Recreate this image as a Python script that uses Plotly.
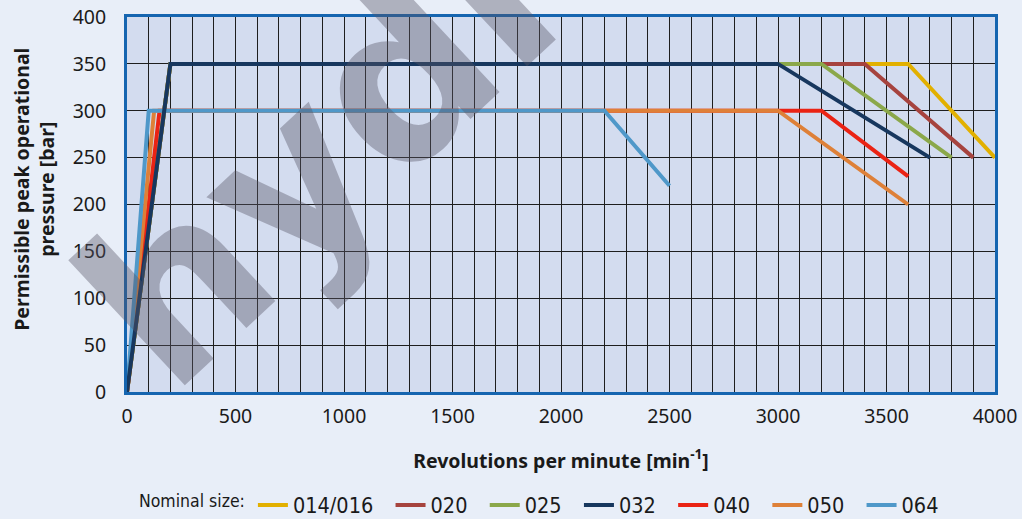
import plotly.graph_objects as go

# ---- data ----
sizes = ["014/016", "020", "025", "032", "040", "050", "064"]
colors = ["#E2B000", "#A6433E", "#8BA84A", "#17375E", "#EA2314", "#DE8038", "#4F98C9"]

rpm_014 = [0, 200, 3600, 4000]
bar_014 = [0, 350, 350, 250]
rpm_020 = [0, 200, 3400, 3900]
bar_020 = [0, 350, 350, 250]
rpm_025 = [0, 200, 3200, 3800]
bar_025 = [0, 350, 350, 250]
rpm_032 = [0, 200, 3000, 3700]
bar_032 = [0, 350, 350, 250]
rpm_040 = [0, 150, 3200, 3600]
bar_040 = [0, 300, 300, 230]
rpm_050 = [0, 125, 3000, 3600]
bar_050 = [0, 300, 300, 200]
rpm_064 = [0, 100, 2200, 2500]
bar_064 = [0, 300, 300, 220]

x_ticks = [0, 500, 1000, 1500, 2000, 2500, 3000, 3500, 4000]
y_ticks = [0, 50, 100, 150, 200, 250, 300, 350, 400]

series = {
    "014/016": (rpm_014, bar_014),
    "020": (rpm_020, bar_020),
    "025": (rpm_025, bar_025),
    "032": (rpm_032, bar_032),
    "040": (rpm_040, bar_040),
    "050": (rpm_050, bar_050),
    "064": (rpm_064, bar_064),
}

# drawing order (later = on top); legend order follows `sizes`
draw_order = ["014/016", "020", "025", "040", "050", "064", "032"]
pad = "\u00a0\u00a0"  # extra spacing between legend entries

fig = go.Figure()
for name in draw_order:
    xs, ys = series[name]
    i = sizes.index(name)
    fig.add_trace(go.Scatter(
        x=xs, y=ys, mode="lines", name=name + pad,
        line=dict(color=colors[i], width=4),
        legendrank=100 + i,
    ))

tick_font = dict(family="Noto Sans, Open Sans, sans-serif", size=19.5, color="#1a1a1a")
title_font = dict(family="Noto Sans, Open Sans, sans-serif", size=19.5, color="#1a1a1a", weight="bold")
legend_family = "Liberation Sans Narrow, DejaVu Sans Condensed, Roboto, sans-serif"

fig.update_layout(
    width=1022, height=519,
    margin=dict(l=127, r=27, t=17, b=127, autoexpand=False),
    paper_bgcolor="#E8EEF8",
    plot_bgcolor="#D3DCEF",
    showlegend=True,
    legend=dict(
        orientation="h",
        xref="container", yref="container",
        x=0.134, y=0.027, xanchor="left", yanchor="middle",
        title=dict(text="Nominal size:", side="left",
                   font=dict(family=legend_family, size=17.5, color="#1a1a1a")),
        font=dict(family=legend_family, size=21.5, color="#1a1a1a"),
        bgcolor="rgba(0,0,0,0)",
        itemwidth=30,
        traceorder="normal",
    ),
    xaxis=dict(
        range=[0, 4000], tickvals=x_ticks, ticktext=[str(v) for v in x_ticks],
        showgrid=True, gridcolor="#1e1e1e", gridwidth=1.3,
        minor=dict(dtick=100, tick0=0, showgrid=True, gridcolor="#1e1e1e", gridwidth=1.3),
        showline=True, linecolor="#1565B0", linewidth=3, mirror=True,
        zeroline=False, tickfont=tick_font, ticks="", ticklabelstandoff=5,
        title=dict(text="Revolutions per minute [min<sup>-1</sup>]", font=title_font, standoff=26),
    ),
    yaxis=dict(
        range=[0, 400], tickvals=y_ticks, ticktext=[str(v) for v in y_ticks],
        showgrid=True, gridcolor="#1e1e1e", gridwidth=1.3,
        showline=True, linecolor="#1565B0", linewidth=3, mirror=True,
        zeroline=False, tickfont=tick_font, ticks="", ticklabelstandoff=14,
    ),
)

# y-axis title (placed as annotation to match its vertical offset)
fig.add_annotation(
    text="Permissible peak operational<br>pressure [bar]", xref="paper", yref="paper",
    x=-0.108, y=0.54, xanchor="center", yanchor="middle", showarrow=False,
    textangle=-90, font=title_font,
)

# watermark
fig.add_annotation(
    text="hydr", xref="paper", yref="paper", x=0.2331, y=0.662,
    xanchor="center", yanchor="middle", showarrow=False, textangle=-43,
    font=dict(family="DejaVu Sans, Open Sans, sans-serif", size=225, color="rgba(88,86,102,0.4)", weight="bold"),
)

fig.write_html("out.html", config={"displayModeBar": False},
               post_script="document.body.style.margin='0';")
